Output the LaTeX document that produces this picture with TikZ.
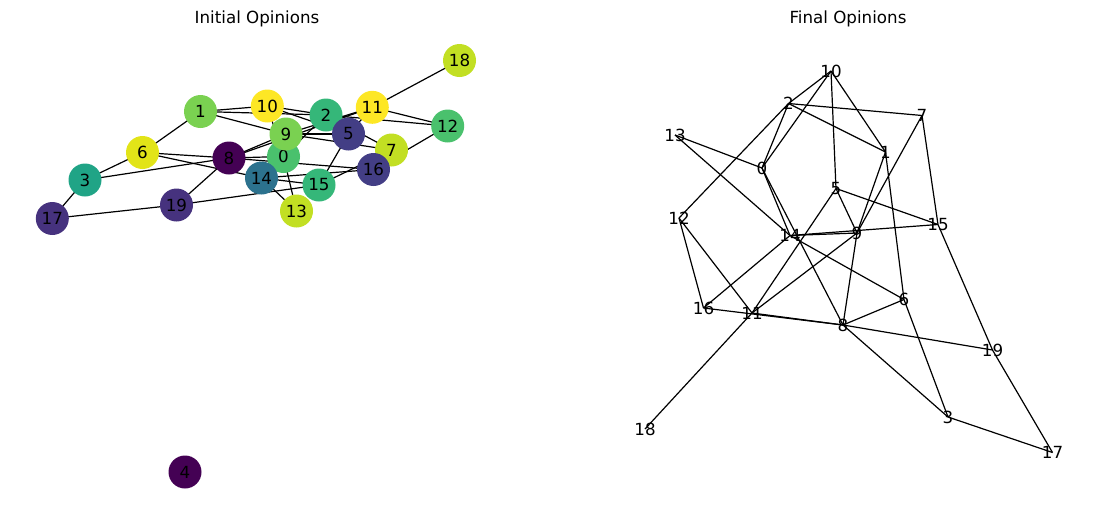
\documentclass[tikz,border=0pt]{standalone}
\usepackage{fontspec}
\setmainfont{DejaVu Sans}
\pgfdeclarelayer{background}
\pgfsetlayers{background,main}
\definecolor{v0}{HTML}{440154}
\definecolor{v1}{HTML}{46327E}
\definecolor{v2}{HTML}{433E85}
\definecolor{v3}{HTML}{2C728E}
\definecolor{v4}{HTML}{20A486}
\definecolor{v5}{HTML}{35B779}
\definecolor{v6}{HTML}{4AC16D}
\definecolor{v7}{HTML}{7AD151}
\definecolor{v8}{HTML}{C2DF23}
\definecolor{v9}{HTML}{E2E418}
\definecolor{v10}{HTML}{FDE725}
\tikzset{
  opnode/.style={circle, draw=none, minimum size=33pt, inner sep=0pt, font=\fontsize{16.7}{20}\selectfont, text=black},
  flabel/.style={inner sep=0pt, font=\fontsize{16.7}{20}\selectfont, text=black},
  ttl/.style={font=\fontsize{16.7}{20}\selectfont, text=black},
  edge/.style={draw=black, line width=1.2pt}
}
\begin{document}
\begin{tikzpicture}[x=1pt,y=-1pt]
\useasboundingbox (0,0) rectangle (1104,504);
\node[ttl] (t1) at (257,18.5) {Initial Opinions};
\node[ttl] (t2) at (848,18.5) {Final Opinions};
% left graph nodes (in drawing order)
\node[opnode, fill=v6] (l0) at (283.5,156.5) {0};
\node[opnode, fill=v7] (l1) at (200.5,111.5) {1};
\node[opnode, fill=v5] (l2) at (326,115) {2};
\node[opnode, fill=v4] (l3) at (85,180) {3};
\node[opnode, fill=v0] (l4) at (185,472) {4};
\node[opnode, fill=v2] (l5) at (348.5,134) {5};
\node[opnode, fill=v9] (l6) at (142.5,152.5) {6};
\node[opnode, fill=v8] (l7) at (391.5,150) {7};
\node[opnode, fill=v0] (l8) at (229,158) {8};
\node[opnode, fill=v7] (l9) at (286,134) {9};
\node[opnode, fill=v10] (l10) at (267.3,106) {10};
\node[opnode, fill=v10] (l11) at (372.3,107.3) {11};
\node[opnode, fill=v6] (l12) at (447.7,126) {12};
\node[opnode, fill=v8] (l13) at (296.5,211) {13};
\node[opnode, fill=v3] (l14) at (261.5,178) {14};
\node[opnode, fill=v5] (l15) at (319,185) {15};
\node[opnode, fill=v2] (l16) at (373.5,169.5) {16};
\node[opnode, fill=v1] (l17) at (52.3,218.5) {17};
\node[opnode, fill=v8] (l18) at (459.5,60.5) {18};
\node[opnode, fill=v1] (l19) at (176.5,205) {19};
\begin{pgfonlayer}{background}
\foreach \a/\b in {10/2,10/0,10/5,10/1,2/7,2/1,2/0,2/12,13/0,13/14,0/14,0/8,5/9,5/15,5/11,7/15,7/9,1/9,1/6,12/16,12/11,14/9,14/15,14/16,14/6,9/11,9/8,16/8,11/8,11/18,8/6,8/19,8/3,6/3,3/17,15/19,19/17}
  \draw[edge] (l\a.center) -- (l\b.center);
\end{pgfonlayer}
% right graph labels
\node[flabel] (r0) at (762,168) {0};
\node[flabel] (r1) at (885.5,152) {1};
\node[flabel] (r2) at (788.5,103.5) {2};
\node[flabel] (r3) at (948,417) {3};
\node[flabel] (r5) at (836,188.5) {5};
\node[flabel] (r6) at (904,299.5) {6};
\node[flabel] (r7) at (922,115.5) {7};
\node[flabel] (r8) at (843,325) {8};
\node[flabel] (r9) at (857,233) {9};
\node[flabel] (r10) at (831,71) {10};
\node[flabel] (r11) at (752,313) {11};
\node[flabel] (r12) at (679,218) {12};
\node[flabel] (r13) at (675,135) {13};
\node[flabel] (r14) at (790,235.5) {14};
\node[flabel] (r15) at (938,224.5) {15};
\node[flabel] (r16) at (703.5,308) {16};
\node[flabel] (r17) at (1052.5,452.5) {17};
\node[flabel] (r18) at (645,429) {18};
\node[flabel] (r19) at (992.5,350) {19};
\begin{pgfonlayer}{background}
\foreach \a/\b in {10/2,10/0,10/5,10/1,2/7,2/1,2/0,2/12,13/0,13/14,0/14,0/8,5/9,5/15,5/11,7/15,7/9,1/9,1/6,12/16,12/11,14/9,14/15,14/16,14/6,9/11,9/8,16/8,11/8,11/18,8/6,8/19,8/3,6/3,3/17,15/19,19/17}
  \draw[edge] (r\a.center) -- (r\b.center);
\end{pgfonlayer}
\end{tikzpicture}
\end{document}
